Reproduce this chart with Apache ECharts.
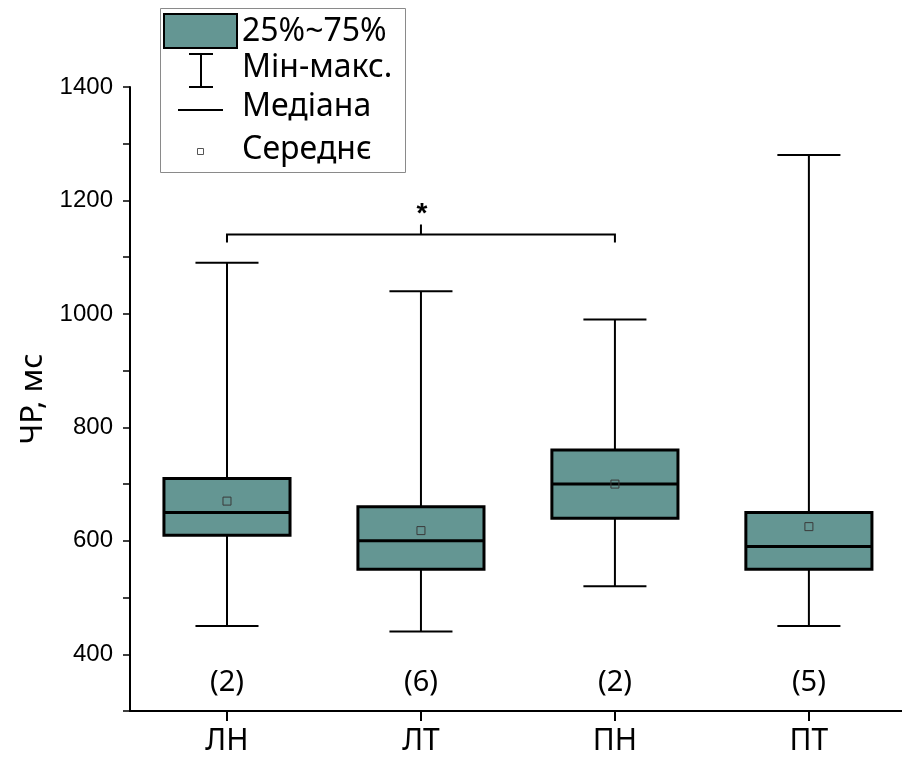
<!DOCTYPE html>
<html>
<head>
<meta charset="utf-8">
<script src="https://cdn.jsdelivr.net/npm/echarts@6/dist/echarts.min.js"></script>
<style>
  html, body { margin: 0; padding: 0; background: #fff; }
  #chart { width: 902px; height: 769px; }
</style>
</head>
<body>
<div id="chart"></div>
<script>
// Groups and their box-plot statistics (ms)
const categories = ['ЛН', 'ЛТ', 'ПН', 'ПТ'];
const minVals    = [450, 440, 520, 450];
const q1Vals     = [610, 550, 640, 550];
const medianVals = [650, 600, 700, 590];
const q3Vals     = [710, 660, 760, 650];
const maxVals    = [1090, 1040, 990, 1280];
const meanVals   = [670, 618, 700, 625];
const countLabels = ['(2)', '(6)', '(2)', '(5)'];

// Significance bracket between groups 1 and 3
const bracketPairs = [[1, 3, 1140, '*']];

// Y axis ticks
const yMin = 300, yMax = 1400, yStep = 100;

const boxFill = '#649693';
const countLevel = 350;

const chart = echarts.init(document.getElementById('chart'));

const boxData = categories.map((c, i) => [i + 1, minVals[i], q1Vals[i], medianVals[i], q3Vals[i], maxVals[i], meanVals[i], countLabels[i]]);

function renderBox(params, api) {
  const x = api.value(0);
  const unit = api.size([1, 0])[0];
  const halfW = 0.325 * unit;
  const capW = 0.1625 * unit;
  const pMin = api.coord([x, api.value(1)]);
  const pQ1 = api.coord([x, api.value(2)]);
  const pMed = api.coord([x, api.value(3)]);
  const pQ3 = api.coord([x, api.value(4)]);
  const pMax = api.coord([x, api.value(5)]);
  const pMean = api.coord([x, api.value(6)]);
  const pCount = api.coord([x, countLevel]);
  const cx = pMed[0];
  const line = (x1, y1, x2, y2, w) => ({
    type: 'line',
    shape: { x1, y1, x2, y2 },
    style: { stroke: '#000', lineWidth: w }
  });
  return {
    type: 'group',
    children: [
      line(cx, pMax[1], cx, pQ3[1], 2),
      line(cx, pQ1[1], cx, pMin[1], 2),
      line(cx - capW, pMax[1], cx + capW, pMax[1], 2),
      line(cx - capW, pMin[1], cx + capW, pMin[1], 2),
      {
        type: 'rect',
        shape: { x: cx - halfW, y: pQ3[1], width: 2 * halfW, height: pQ1[1] - pQ3[1] },
        style: { fill: boxFill, stroke: '#000', lineWidth: 3 }
      },
      line(cx - halfW, pMed[1], cx + halfW, pMed[1], 3),
      {
        type: 'rect',
        shape: { x: cx - 4, y: pMean[1] - 4, width: 8, height: 8 },
        style: { fill: 'none', stroke: '#3a3a3a', lineWidth: 1 }
      },
      {
        type: 'text',
        x: cx, y: pCount[1],
        style: {
          text: api.value(7),
          fill: '#000',
          font: '29px "Noto Sans"',
          align: 'center',
          verticalAlign: 'middle'
        }
      }
    ]
  };
}

function renderBracket(params, api) {
  const a = api.coord([api.value(0), api.value(2)]);
  const b = api.coord([api.value(1), api.value(2)]);
  const drop = 8, rise = 10;
  const mid = (a[0] + b[0]) / 2;
  const st = { stroke: '#000', lineWidth: 2 };
  return {
    type: 'group',
    children: [
      { type: 'polyline', shape: { points: [[a[0], a[1] + drop], [a[0], a[1]], [b[0], b[1]], [b[0], b[1] + drop]] }, style: Object.assign({ fill: 'none' }, st) },
      { type: 'line', shape: { x1: mid, y1: a[1], x2: mid, y2: a[1] - rise }, style: st },
      {
        type: 'text', x: mid + 1, y: a[1] - rise - 10,
        style: { text: api.value(3), fill: '#000', font: 'bold 28px "Liberation Sans"', align: 'center', verticalAlign: 'middle' }
      }
    ]
  };
}

const legendFont = '32px "Noto Sans"';
const legendItems = [
  { type: 'rect', shape: { x: 160.5, y: 8.5, width: 245, height: 164 }, style: { fill: '#fff', stroke: '#8a8a8a', lineWidth: 1 } },
  { type: 'rect', shape: { x: 164, y: 14, width: 73, height: 34 }, style: { fill: boxFill, stroke: '#000', lineWidth: 2 } },
  { type: 'text', x: 242, y: 32, style: { text: '25%~75%', font: legendFont, fill: '#000', verticalAlign: 'middle' } },
  { type: 'line', shape: { x1: 201, y1: 54, x2: 201, y2: 87 }, style: { stroke: '#000', lineWidth: 2 } },
  { type: 'line', shape: { x1: 189, y1: 54, x2: 213, y2: 54 }, style: { stroke: '#000', lineWidth: 2 } },
  { type: 'line', shape: { x1: 189, y1: 87, x2: 213, y2: 87 }, style: { stroke: '#000', lineWidth: 2 } },
  { type: 'text', x: 242, y: 68, style: { text: 'Мін-макс.', font: legendFont, fill: '#000', verticalAlign: 'middle' } },
  { type: 'line', shape: { x1: 178, y1: 110, x2: 223, y2: 110 }, style: { stroke: '#000', lineWidth: 2 } },
  { type: 'text', x: 242, y: 107, style: { text: 'Медіана', font: legendFont, fill: '#000', verticalAlign: 'middle' } },
  { type: 'rect', shape: { x: 197.5, y: 148.5, width: 6, height: 6 }, style: { fill: 'none', stroke: '#555', lineWidth: 1 } },
  { type: 'text', x: 242, y: 150, style: { text: 'Середнє', font: legendFont, fill: '#000', verticalAlign: 'middle' } }
];

chart.setOption({
  animation: false,
  backgroundColor: '#fff',
  grid: { left: 130, right: 0, top: 87, bottom: 58, containLabel: false },
  xAxis: {
    type: 'value',
    min: 0.5,
    max: 4.48,
    axisLine: { lineStyle: { color: '#000', width: 2 } },
    splitLine: { show: false },
    axisTick: { show: true, length: 10, lineStyle: { color: '#000', width: 2 }, customValues: [1, 2, 3, 4] },
    axisLabel: {
      customValues: [1, 2, 3, 4],
      formatter: v => categories[Math.round(v) - 1] || '',
      color: '#000',
      fontSize: 30,
      fontFamily: 'Noto Sans',
      margin: 15
    }
  },
  yAxis: {
    type: 'value',
    min: yMin,
    max: yMax,
    interval: yStep,
    name: 'ЧР, мс',
    nameLocation: 'middle',
    nameGap: 80,
    nameRotate: 90,
    nameTextStyle: { fontSize: 31, fontFamily: 'Noto Sans', color: '#000' },
    axisLine: { show: true, lineStyle: { color: '#000', width: 2 } },
    splitLine: { show: false },
    axisTick: { show: true, length: 7, lineStyle: { color: '#000', width: 1.5 } },
    axisLabel: {
      color: '#000',
      fontSize: 24,
      fontFamily: 'Liberation Sans',
      margin: 17,
      formatter: v => (v % 200 === 0 ? String(v) : '')
    }
  },
  series: [
    { type: 'custom', renderItem: renderBox, data: boxData, clip: false, z: 3 },
    { type: 'custom', renderItem: renderBracket, data: bracketPairs, clip: false, z: 3 }
  ],
  graphic: { elements: legendItems }
});
</script>
</body>
</html>
